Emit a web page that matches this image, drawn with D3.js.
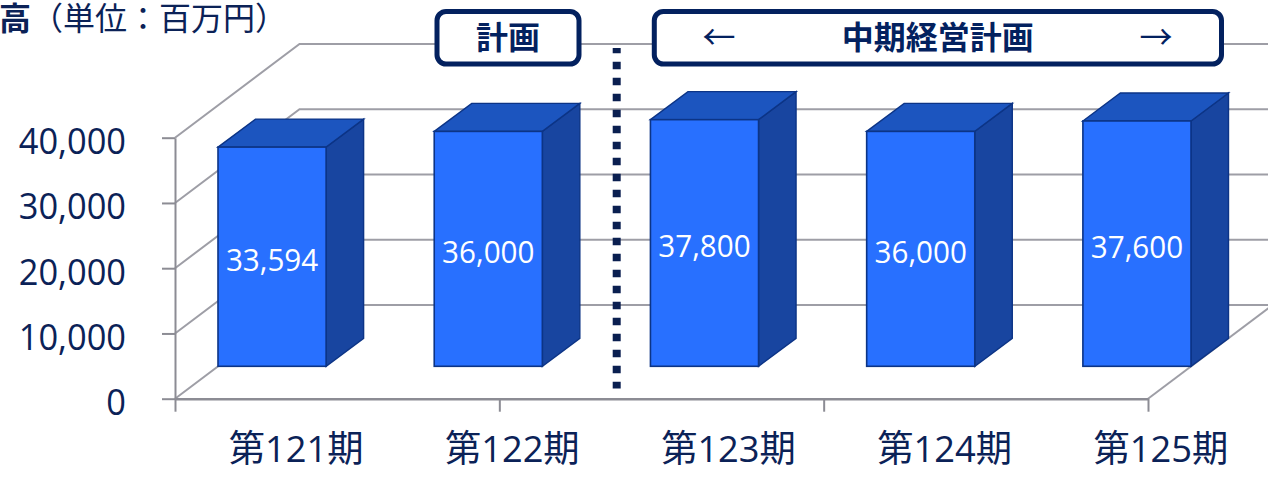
<!DOCTYPE html>
<html lang="ja">
<head>
<meta charset="utf-8">
<script src="https://cdn.jsdelivr.net/npm/d3@7"></script>
<style>
html,body{margin:0;padding:0;background:#fff;overflow:hidden}
svg{display:block}
text{font-family:"Open Sans","Noto Sans CJK JP",sans-serif}
.cjk{font-family:"Noto Sans CJK JP",sans-serif}
</style>
</head>
<body>
<svg id="c" width="1268" height="477"></svg>
<script>
const categories = ["第121期","第122期","第123期","第124期","第125期"];
const values = [33594,36000,37800,36000,37600];
const yTicks = [0,10000,20000,30000,40000];
const xAxisTicks = [0,1.5,3,4.5];
const titleBold = "高";
const titleRest = "（単位：百万円）";
const planLabel = "計画";
const midLabel = "中期経営計画";

const svg=d3.select("#c");
const INK="#0b2257", NAVY="#03215f", GRID="#9e9ea6", AXIS="#8c8c94";
const FRONT="#2870ff", TOPC="#1c55bf", SIDE="#1845a0", EDGE="#0c3486";

// condense text horizontally: the original face is narrower than the installed ones
const narrow=(sel,k)=>sel.each(function(){
  this.setAttribute("textLength",this.getComputedTextLength()*k);
  this.setAttribute("lengthAdjust","spacingAndGlyphs");
});

// plot geometry
const y=d3.scaleLinear().domain([0,40000]).range([398.7,137.7]);
const x=d3.scaleLinear().domain([0,4.5]).range([175,1148]);
const wallDx=124.5, wallDy=-93.7;      // floor depth
const barDx0=43, barDy0=-32.4;         // front of bar inside the floor
const barDx=37.5, barDy=-28;           // depth of a bar
const barWidth=x(0.5)-x(0);

// gridlines: left wall diagonals + back wall lines
const grid=svg.append("g").attr("fill","none").attr("stroke",GRID).attr("stroke-width",2);
grid.selectAll("path.g").data(yTicks).join("path").attr("class","g")
  .attr("d",d=>d3.line()([[x(0),y(d)],[x(0)+wallDx,y(d)+wallDy],[x(4.5)+wallDx,y(d)+wallDy]]));
// right floor edge
grid.append("path").attr("d",d3.line()([[x(4.5),y(0)],[x(4.5)+wallDx,y(0)+wallDy]]));

// axes
const yAxis=svg.append("g").attr("transform",`translate(${x(0)},0)`)
  .call(d3.axisLeft(y).tickValues(yTicks).tickFormat(d3.format(",")).tickSize(13).tickSizeOuter(0).tickPadding(36));
const xAxis=svg.append("g").attr("transform",`translate(0,${y(0)})`)
  .call(d3.axisBottom(x).tickValues(xAxisTicks).tickFormat("").tickSize(13).tickSizeOuter(0));
[yAxis,xAxis].forEach(a=>{
  a.attr("font-family",null);
  a.selectAll(".domain,line").attr("stroke",AXIS).attr("stroke-width",2);
});
xAxis.select(".domain").attr("stroke-width",2.4);
yAxis.selectAll("text").attr("fill",INK).attr("font-size",37).attr("dy",null)
  .attr("dominant-baseline","central").attr("y",1.5).call(narrow,0.93);

// bars
const bars=svg.append("g").selectAll("g").data(values).join("g");
const barL=(d,i)=>x(i)+barDx0, barR=(d,i)=>barL(d,i)+barWidth;
const barB=y(0)+barDy0;
const barT=d=>barB-(y(0)-y(d));
const pts=a=>a.map(p=>p.join(",")).join(" ");
bars.append("polygon").attr("fill",SIDE).attr("stroke",EDGE).attr("stroke-width",1.4)
  .attr("points",(d,i)=>pts([[barR(d,i),barT(d)],[barR(d,i)+barDx,barT(d)+barDy],[barR(d,i)+barDx,barB+barDy],[barR(d,i),barB]]));
bars.append("polygon").attr("fill",TOPC).attr("stroke",EDGE).attr("stroke-width",1.4)
  .attr("points",(d,i)=>pts([[barL(d,i),barT(d)],[barL(d,i)+barDx,barT(d)+barDy],[barR(d,i)+barDx,barT(d)+barDy],[barR(d,i),barT(d)]]));
bars.append("rect").attr("fill",FRONT).attr("stroke",EDGE).attr("stroke-width",1.6)
  .attr("x",barL).attr("y",d=>barT(d)).attr("width",barWidth).attr("height",d=>barB-barT(d));
bars.append("text").text(d3.format(",")).attr("fill","#fff").attr("font-size",31.5)
  .attr("text-anchor","middle").attr("dominant-baseline","central")
  .attr("x",(d,i)=>barL(d,i)+barWidth/2).attr("y",d=>(barT(d)+barB)/2+1.5).call(narrow,0.94);

// category labels
svg.append("g").selectAll("text").data(categories).join("text").text(d=>d)
  .attr("fill",INK).attr("font-size",37)
  .attr("text-anchor","middle").attr("dominant-baseline","central")
  .attr("x",(d,i)=>x(i)+barDx0+barWidth/2+24).attr("y",447.5).call(narrow,0.98);

// divider
svg.append("line").attr("x1",616.7).attr("x2",616.7).attr("y1",48).attr("y2",388.5)
  .attr("stroke","#0a1f50").attr("stroke-width",8).attr("stroke-dasharray","7.5 8.5").attr("stroke-dashoffset",2.3);

// title
const title=svg.append("text").attr("class","cjk").attr("x",-1).attr("y",30).attr("font-size",32).attr("fill",INK);
title.append("tspan").attr("font-weight",700).text(titleBold);
title.append("tspan").text(titleRest);

// boxes
const boxes=[{x0:437,x1:579},{x0:654.3,x1:1221.5}];
svg.append("g").selectAll("rect").data(boxes).join("rect")
  .attr("x",d=>d.x0).attr("y",11.5).attr("width",d=>d.x1-d.x0).attr("height",52.5).attr("rx",9)
  .attr("fill","#fff").attr("stroke",NAVY).attr("stroke-width",5);
const lab=svg.append("g").attr("fill",NAVY).attr("text-anchor","middle").attr("dominant-baseline","central");
lab.append("text").attr("class","cjk").attr("x",508).attr("y",35).attr("font-size",32).attr("font-weight",700).text(planLabel);
lab.append("text").attr("class","cjk").attr("x",937.7).attr("y",35).attr("font-size",32).attr("font-weight",700).text(midLabel);
lab.append("text").attr("class","cjk").attr("x",719).attr("y",35).attr("font-size",33).text("←");
lab.append("text").attr("class","cjk").attr("x",1156).attr("y",35).attr("font-size",33).text("→");
</script>
</body>
</html>
